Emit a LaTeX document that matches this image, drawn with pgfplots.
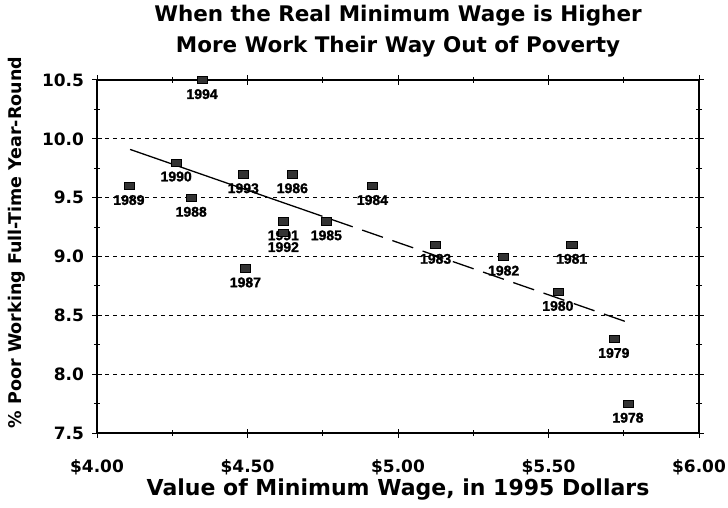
\documentclass[border=0pt]{standalone}
\usepackage{pgfplots}
\pgfplotsset{compat=1.18}
\usepackage{pgfplotstable}
\usepackage{fontspec}
\setmainfont{Liberation Sans}
\newfontfamily\heavy{DejaVu Sans}
\newfontfamily\titlefont[FakeBold=1.5]{Liberation Sans Bold}
\pgfplotstableread{
x y label
4.349 10.5 1994
4.263 9.8 1990
4.106 9.6 1989
4.313 9.5 1988
4.486 9.7 1993
4.649 9.7 1986
4.915 9.6 1984
4.619 9.3 1991
4.619 9.2 1992
4.762 9.3 1985
4.493 8.9 1987
5.125 9.1 1983
5.351 9.0 1982
5.577 9.1 1981
5.531 8.7 1980
5.717 8.3 1979
5.764 7.75 1978
}\datatable
\begin{document}
\begin{tikzpicture}[x=1pt,y=1pt]
\useasboundingbox (0,0) rectangle (728,507);
\begin{axis}[
  at={(97pt,74pt)}, anchor=south west,
  scale only axis, width=602pt, height=353pt,
  xmin=4, xmax=6, ymin=7.5, ymax=10.5,
  xtick={4,4.5,5,5.5,6},
  xticklabels={\$4.00,\$4.50,\$5.00,\$5.50,\$6.00},
  ytick={7.5,8,8.5,9,9.5,10,10.5},
  yticklabels={7.5,8.0,8.5,9.0,9.5,10.0,10.5},
  minor x tick num=1, minor y tick num=1,
  tick align=center,
  major tick length=9pt, minor tick length=6pt,
  every tick/.style={black, line width=1pt},
  axis line style={line width=1.2pt},
  ymajorgrids, grid style={black, dash pattern=on 4pt off 4pt, line width=1pt},
  ticklabel style={font=\heavy\fontsize{17}{17}\selectfont\bfseries},
  xticklabel style={yshift=-19pt},
  yticklabel style={xshift=-5pt},
  xlabel={Value of Minimum Wage, in 1995 Dollars},
  ylabel={\% Poor Working Full-Time Year-Round},
  xlabel style={font=\heavy\fontsize{22}{22}\selectfont\bfseries, at={(axis description cs:0.5,0)}, anchor=center, yshift=-57pt},
  ylabel style={font=\heavy\fontsize{17.5}{18}\selectfont\bfseries, at={(axis description cs:0,0.5)}, anchor=center, xshift=14pt, yshift=80pt},
  title={When the Real Minimum Wage is Higher\\More Work Their Way Out of Poverty},
  title style={font=\heavy\fontsize{21.5}{31}\selectfont\bfseries, align=center, at={(0.5,1)}, anchor=north, inner sep=0pt, yshift=69pt},
  clip=false,
]
\addplot[black, line width=1.3pt, forget plot] coordinates {(4.11,9.91) (4.68,9.403)};
\addplot[black, line width=1.3pt, dash pattern=on 22pt off 10pt, forget plot] coordinates {(4.68,9.403) (5.764,8.44)};
\addplot[only marks, mark=square*, mark size=3.6pt,
  mark options={fill=black!80, draw=black, xscale=1.4},
  nodes near coords, point meta=explicit symbolic,
  every node near coord/.style={anchor=north, yshift=-8pt, font=\titlefont\fontsize{14}{14}\selectfont, inner sep=1pt}]
  table[x=x, y=y, meta=label] {\datatable};
\end{axis}
\end{tikzpicture}
\end{document}
